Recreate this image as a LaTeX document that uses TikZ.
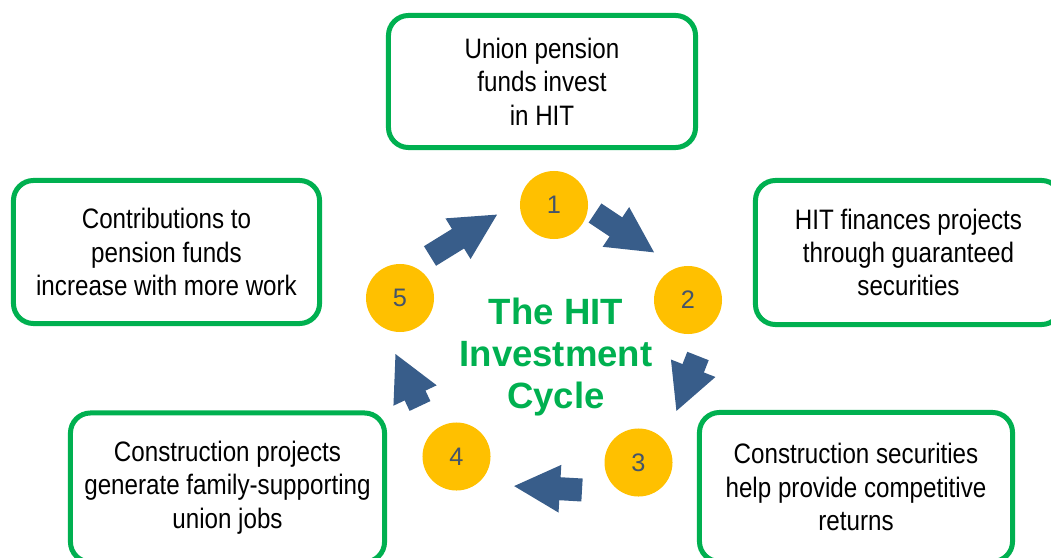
\documentclass[tikz,border=0pt]{standalone}
\usepackage{fontspec}
\setmainfont{Liberation Sans}
\newfontfamily\narrowfont{Liberation Sans}[FakeStretch=0.86]
\usepackage{tikz}
\usetikzlibrary{positioning,arrows.meta}
\definecolor{hitgreen}{HTML}{00B050}
\definecolor{hityellow}{HTML}{FFC000}
\definecolor{hitblue}{HTML}{385D8A}
\definecolor{hitslate}{HTML}{44546A}

\begin{document}
\begin{tikzpicture}[
  x=0.025cm, y=-0.025cm,
  box/.style={draw=hitgreen, line width=0.125cm, rounded corners=0.5cm, fill=white, align=center, inner sep=0pt,
    font=\narrowfont\fontsize{20}{23.7}\selectfont, text=black},
  num/.style={circle, fill=hityellow, minimum size=1.7cm, inner sep=0pt, text=hitslate, font=\fontsize{18}{21}\selectfont},
  title/.style={align=center, text=hitgreen, font=\bfseries\fontsize{26}{30}\selectfont},
  flow/.style={draw=hitblue, line width=0.575cm, -{Triangle[length=1.175cm, width=1.1cm]}}
]
\clip (0,0) rectangle (1051,558);

% Text boxes round the cycle
\node[box, minimum width=7.675cm, minimum height=3.3cm] (b1) at (542,81.5) {Union pension\\funds invest\\in HIT};
\node[box, minimum width=7.65cm, minimum height=3.6cm] (b2) at (908.5,252.5) {HIT finances projects\\through guaranteed\\securities};
\node[box, minimum width=7.825cm, minimum height=3.725cm] (b3) at (856,487) {Construction securities\\help provide competitive\\returns};
\node[box, minimum width=7.85cm, minimum height=3.725cm] (b4) at (227.5,487.5) {Construction projects\\generate family-supporting\\union jobs};
\node[box, minimum width=7.65cm, minimum height=3.575cm] (b5) at (166.5,252) {Contributions to\\pension funds\\increase with more work};

% Numbered steps
\node[num] (c1) at (554,205) {1};
\node[num] (c2) at (688,300) {2};
\node[num] (c3) at (638.5,462.5) {3};
\node[num] (c4) at (456.5,456.5) {4};
\node[num] (c5) at (400,298) {5};

% Title in the middle
\node[title] (title) at (556,357) {The HIT\\Investment\\Cycle};

% Arrows
\coordinate (t12) at (595,213);  \coordinate (h12) at (655,253);
\coordinate (t23) at (698,356);  \coordinate (h23) at (676,412);
\coordinate (t34) at (582,490);  \coordinate (h34) at (513,486);
\coordinate (t45) at (420,406);  \coordinate (h45) at (395,353);
\coordinate (t51) at (430,256);  \coordinate (h51) at (498,214);
\draw[flow] (t12) -- (h12);
\draw[flow] (t23) -- (h23);
\draw[flow] (t34) -- (h34);
\draw[flow] (t45) -- (h45);
\draw[flow] (t51) -- (h51);

\end{tikzpicture}
\end{document}
